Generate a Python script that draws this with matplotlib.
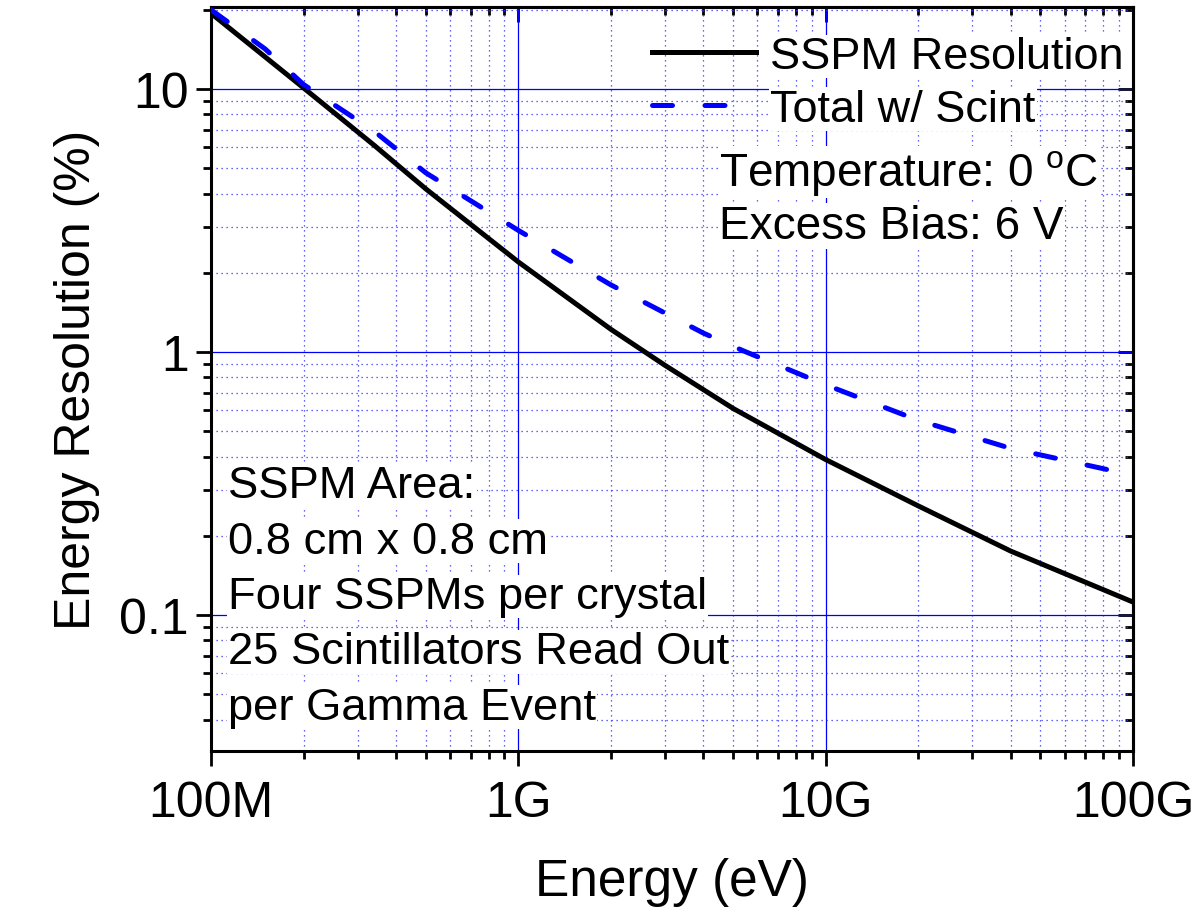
import matplotlib
matplotlib.use("Agg")
import matplotlib.pyplot as plt
from matplotlib.ticker import LogLocator, FuncFormatter, NullFormatter

plt.rcParams['font.family'] = ['Liberation Sans', 'DejaVu Sans']
plt.rcParams['mathtext.fontset'] = 'custom'
plt.rcParams['mathtext.rm'] = 'Liberation Sans'

# SSPM-only resolution vs. gamma energy
sspm_energy = [1e8, 2e8, 3.4e8, 5e8, 1e9, 2e9, 3e9, 5e9, 1e10, 2e10, 4e10, 1e11]
sspm_res = [19.4, 10.1, 6.1, 4.17, 2.2, 1.22, 0.89, 0.61, 0.39, 0.26, 0.175, 0.112]

# total resolution including scintillator statistics
total_energy = [1e8, 1.5e8, 2e8, 3.4e8, 5e8, 1e9, 2e9, 4e9, 5.4e9, 1e10, 2e10, 4e10, 1e11]
total_res = [20.0, 14.2, 10.4, 6.9, 4.8, 2.9, 1.8, 1.18, 1.01, 0.75, 0.55, 0.43, 0.34]

legend_labels = ['SSPM Resolution', 'Total w/ Scint']
cond_lines = ['Temperature: 0 $^{\\rm o}$C', 'Excess Bias: 6 V']
setup_lines = ['SSPM Area:', '0.8 cm x 0.8 cm', 'Four SSPMs per crystal',
               '25 Scintillators Read Out', 'per Gamma Event']

fig = plt.figure(figsize=(11.98, 9.12), dpi=100)
ax = fig.add_axes([211/1198, 160/912, 922/1198, 744/912])

ax.plot(sspm_energy, sspm_res, color='black', lw=3.6, label=legend_labels[0], zorder=4)
ax.plot(total_energy, total_res, color='#0000ff', lw=3.6, ls=(0, (4, 6.5)),
        dash_capstyle='round', label=legend_labels[1], zorder=4)

ax.set_xscale('log')
ax.set_yscale('log')
ax.set_xlim(1e8, 1e11)
ax.set_ylim(0.0304, 20.5)

def si_fmt(v, pos):
    names = {1e8: '100M', 1e9: '1G', 1e10: '10G', 1e11: '100G'}
    for k, s in names.items():
        if abs(v / k - 1) < 1e-6:
            return s
    return ''

ax.xaxis.set_major_locator(LogLocator(base=10, numticks=10))
ax.xaxis.set_minor_locator(LogLocator(base=10, subs=range(2, 10), numticks=20))
ax.xaxis.set_major_formatter(FuncFormatter(si_fmt))
ax.xaxis.set_minor_formatter(NullFormatter())
ax.yaxis.set_major_locator(LogLocator(base=10, numticks=10))
ax.yaxis.set_minor_locator(LogLocator(base=10, subs=range(2, 10), numticks=20))
ax.yaxis.set_major_formatter(FuncFormatter(lambda v, p: '%g' % v))
ax.yaxis.set_minor_formatter(NullFormatter())

ax.grid(which='major', color='#0000ff', lw=0.9, ls='-', zorder=1)
ax.grid(which='minor', color='#3333ff', lw=0.9, ls=(0, (1, 3)), zorder=1)
ax.set_axisbelow(True)

for sp in ax.spines.values():
    sp.set_linewidth(2.2)

# outward ticks on bottom/left, inward ticks on the mirrored top/right
ax.tick_params(which='both', bottom=True, left=True, top=False, right=False,
               direction='out', width=2.0, labelsize=36, colors='black')
ax.tick_params(which='major', length=11, pad=5)
ax.tick_params(which='minor', length=6)
ax.tick_params(axis='x', which='major', pad=10)

sec_x = ax.secondary_xaxis('top')
sec_x.set_xscale('log')
sec_x.xaxis.set_major_locator(LogLocator(base=10, numticks=10))
sec_x.xaxis.set_minor_locator(LogLocator(base=10, subs=range(2, 10), numticks=20))
sec_x.xaxis.set_major_formatter(NullFormatter())
sec_x.xaxis.set_minor_formatter(NullFormatter())
sec_x.tick_params(which='both', direction='in', width=2.0)
sec_x.tick_params(which='major', length=11)
sec_x.tick_params(which='minor', length=6)
sec_x.spines['top'].set_linewidth(2.2)

sec_y = ax.secondary_yaxis('right')
sec_y.set_yscale('log')
sec_y.yaxis.set_major_locator(LogLocator(base=10, numticks=10))
sec_y.yaxis.set_minor_locator(LogLocator(base=10, subs=range(2, 10), numticks=20))
sec_y.yaxis.set_major_formatter(NullFormatter())
sec_y.yaxis.set_minor_formatter(NullFormatter())
sec_y.tick_params(which='both', direction='in', width=2.0)
sec_y.tick_params(which='major', length=11)
sec_y.tick_params(which='minor', length=6)
sec_y.spines['right'].set_linewidth(2.2)

ax.set_xlabel('Energy (eV)', fontsize=37, labelpad=22)
ax.set_ylabel('Energy Resolution (%)', fontsize=36, labelpad=14)

leg = ax.legend(loc='upper right', bbox_to_anchor=(1.0, 0.973), frameon=False,
                fontsize=32.5, handlelength=2.3, handletextpad=0.33,
                labelspacing=0.26, borderpad=0.2, borderaxespad=0.0)
for t in leg.get_texts():
    t.set_bbox(dict(facecolor='white', edgecolor='none', pad=1))
leg.set_zorder(6)

box = dict(facecolor='white', edgecolor='none', pad=1)
for i, line in enumerate(cond_lines):
    ax.text((719 - 211) / 922, 1 - (173 - 8 + i * 54) / 744, line, transform=ax.transAxes,
            fontsize=33, va='center', ha='left', bbox=box, zorder=6)

for i, line in enumerate(setup_lines):
    ax.text((228 - 211) / 922, 1 - (487 - 8 + i * 55.3) / 744, line, transform=ax.transAxes,
            fontsize=32.7, va='center', ha='left', bbox=box, zorder=6)

fig.savefig('out.png', dpi=100)
